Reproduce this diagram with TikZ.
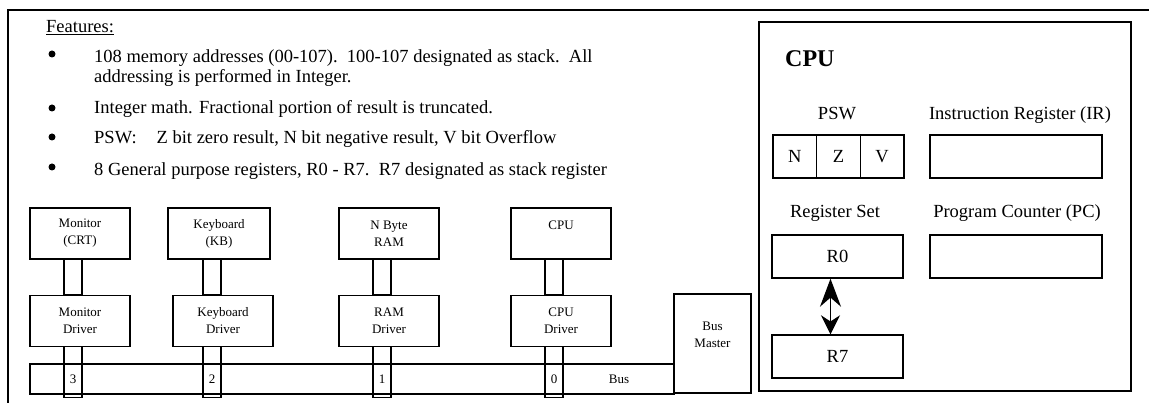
\documentclass[tikz,border=0pt]{standalone}
\usepackage{fontspec}
\setmainfont{Liberation Serif}
\usetikzlibrary{arrows.meta, positioning}

\begin{document}
\begin{tikzpicture}[x=1pt, y=-1pt,
    unit/.style={rectangle, draw, line width=1.2pt, minimum width=100pt, minimum height=51pt, inner sep=1pt, align=center, font=\fontsize{13}{17}\selectfont},
    reg/.style={rectangle, draw, line width=1.4pt, minimum width=131pt, minimum height=43pt, font=\fontsize{18.5}{20}\selectfont},
    flag/.style={reg, minimum width=43.67pt, outer sep=0pt},
    link/.style={line width=1.2pt},
    dot/.style={circle, fill, inner sep=0pt, minimum size=7pt},
    caption/.style={anchor=base, font=\fontsize{18.5}{20}\selectfont},
    item/.style={anchor=base west, align=left, inner sep=0pt, font=\fontsize{18.5}{20}\selectfont},
    arrow/.style={{Stealth[length=28pt,width=21pt]}-{Stealth[length=19pt,width=19pt]}, line width=1.3pt}
]
\useasboundingbox (0,0) rectangle (1149,403);

% frame
\draw[line width=1.3pt] (8,403) -- (8,10) -- (1149,10);

% features
\node[item] (feat) at (46,33) {\underline{Features:}};
\foreach \y [count=\i] in {54,108,137,167}
  \node[dot] (b\i) at (52,\y) {};
\node[item] (f1) at (94,83) {108 memory addresses (00-107).\ \ 100-107 designated as stack.\ \ All\\addressing is performed in Integer.};
\node[item] (f2) at (94,114) {Integer math. Fractional portion of result is truncated.};
\node[item] (f3) at (94,144) {PSW:\hspace{20pt}Z bit zero result, N bit negative result, V bit Overflow};
\node[item] (f4) at (94,176) {8 General purpose registers, R0 - R7.\ \ R7 designated as stack register};

% bus
\node[unit, minimum width=644pt, minimum height=30pt] (bus) at (352,379) {};
\node[unit, minimum width=77pt, minimum height=99pt] (master) at (712.5,343.5) {Bus\\Master\\ \mbox{}};
\node[font=\fontsize{13}{17}\selectfont] (buslbl) at (619,379) {Bus};

% devices and drivers
\node[unit] (mon) at (80,233.5) {Monitor\\(CRT)};
\node[unit, below=35pt of mon] (mondrv) {Monitor\\Driver};
\node[unit, minimum width=102pt] (kb) at (219,233.5) {Keyboard\\(KB)};
\node[unit, below=35pt of kb, xshift=4pt] (kbdrv) {Keyboard\\Driver};
\node[unit] (ram) at (389,233.5) {N Byte\\RAM};
\node[unit, below=35pt of ram] (ramdrv) {RAM\\Driver};
\node[unit] (cpu) at (561,233.5) {CPU\\ \mbox{}};
\node[unit, below=35pt of cpu] (cpudrv) {CPU\\Driver};

\foreach \m/\k in {mon/3, kb/2, ram/1, cpu/0} {
  \draw[link] ([xshift=-16pt]\m.south) rectangle ([xshift=2pt]\m.south |- \m drv.north);
  \draw[link] ([xshift=-16pt]\m.south |- \m drv.south) rectangle ([xshift=2pt,yshift=-3pt]\m.south |- bus.south);
  \node[font=\fontsize{13}{17}\selectfont] (n\k) at ([xshift=-7pt]\m.south |- bus) {\k};
}

% cpu internals
\node[rectangle, draw, line width=1.6pt, minimum width=372pt, minimum height=369pt] (cpubox) at (945,206.5) {};
\node[anchor=base west, inner sep=0pt, font=\fontsize{24}{26}\selectfont\bfseries] (cputitle) at (785,67) {CPU};
\node[caption] (pswlbl) at (837,120) {PSW};
\node[caption] (irlbl) at (1020,120) {Instruction Register (IR)};
\node[flag] (fn) at (794.8,156.5) {N};
\node[flag, right=0pt of fn] (fz) {Z};
\node[flag, right=0pt of fz] (fv) {V};
\node[reg, minimum width=172pt] (ir) at (1016,156.5) {};
\node[caption] (setlbl) at (835,218) {Register Set};
\node[caption] (pclbl) at (1017,218) {Program Counter (PC)};
\node[reg] (r0) at (837.5,256.5) {R0};
\node[reg, minimum width=172pt] (pc) at (1016,256.5) {};
\node[reg] (r7) at (837.5,356.5) {R7};
\draw[arrow] ([xshift=-7pt]r0.south) -- ([xshift=-7pt]r7.north);

\end{tikzpicture}
\end{document}
